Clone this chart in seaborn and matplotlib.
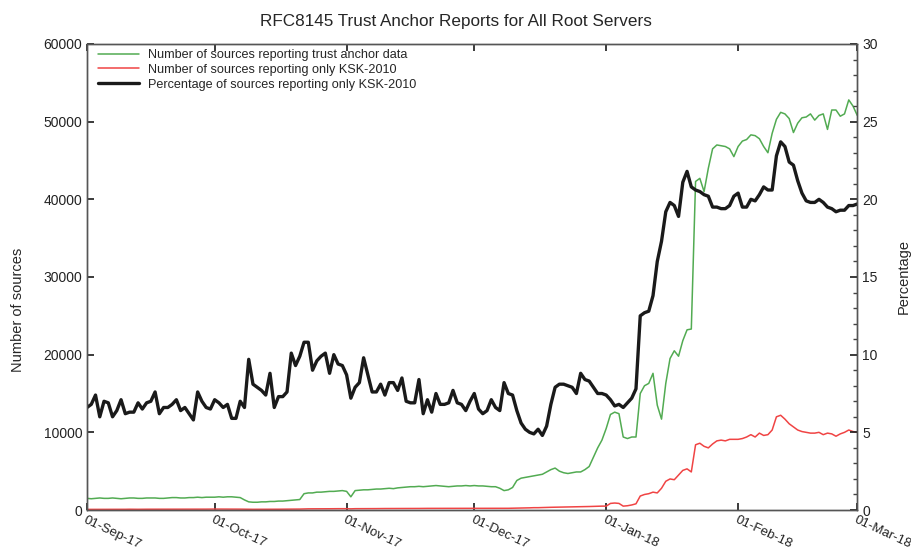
import numpy as np
import pandas as pd
import matplotlib
matplotlib.use("Agg")
import matplotlib.pyplot as plt
import matplotlib.dates as mdates
from matplotlib.ticker import MultipleLocator
import seaborn as sns

# ---- data (daily, 01-Sep-17 .. 01-Mar-18) ----
pct_sep = [6.6, 6.8, 7.4, 6.0, 7.0, 6.9, 6.0, 6.4, 7.1, 6.2, 6.3, 6.3, 6.9, 6.5, 6.9,
           7.0, 7.6, 6.2, 6.6, 6.6, 6.8, 7.1, 6.4, 6.6, 6.2, 5.8, 7.6, 7.0, 6.6, 6.5]
pct_oct = [7.1, 6.9, 6.6, 6.8, 5.9, 5.9, 7.0, 6.6, 9.7, 8.1, 7.9, 7.7, 7.4, 8.8, 6.6, 7.3,
           7.3, 7.6, 10.1, 9.3, 9.9, 10.8, 10.8, 9.0, 9.6, 9.9, 10.1, 8.8, 10.0, 9.4, 9.3]
pct_nov = [8.7, 7.2, 7.9, 8.2, 9.8, 8.7, 7.6, 7.6, 8.1, 7.4, 8.2, 8.2, 7.7, 8.5, 7.0,
           6.9, 6.9, 8.4, 6.2, 7.1, 6.3, 7.5, 6.8, 6.8, 6.9, 7.7, 6.9, 6.8, 6.4, 7.0]
pct_dec = [7.5, 6.5, 6.2, 6.4, 7.1, 6.6, 6.4, 8.2, 7.5, 7.4, 6.4, 5.6, 5.2, 5.0, 4.9, 5.2,
           4.8, 5.4, 6.8, 7.9, 8.1, 8.1, 8.0, 7.9, 7.5, 8.8, 8.4, 8.3, 7.9, 7.5, 7.5]
pct_jan = [7.4, 7.1, 6.7, 6.8, 6.6, 6.9, 7.2, 7.8, 12.5, 12.7, 12.8, 13.8, 16.0, 17.3, 19.2, 19.8,
           19.6, 18.9, 21.1, 21.8, 20.8, 20.6, 20.5, 20.3, 20.2, 19.5, 19.5, 19.4, 19.4, 19.6, 20.2]
pct_feb = [20.4, 19.5, 19.5, 20.0, 19.9, 20.3, 20.8, 20.6, 20.6, 22.8, 23.7, 23.4, 22.4, 22.2,
           21.2, 20.4, 19.9, 19.8, 19.8, 20.0, 19.8, 19.5, 19.4, 19.2, 19.3, 19.3, 19.6, 19.6]
pct_mar = [19.7]

green_sep = [1500, 1450, 1500, 1550, 1500, 1500, 1550, 1500, 1450, 1500, 1550, 1550, 1500, 1500, 1550,
             1550, 1550, 1500, 1500, 1550, 1600, 1600, 1550, 1550, 1600, 1600, 1650, 1600, 1650, 1650]
green_oct = [1650, 1700, 1650, 1700, 1700, 1650, 1600, 1300, 1050, 1000, 1000, 1050, 1050, 1100, 1100, 1150,
             1150, 1200, 1250, 1300, 1350, 2100, 2200, 2200, 2300, 2300, 2350, 2400, 2400, 2450, 2500]
green_nov = [2400, 1700, 2500, 2550, 2600, 2600, 2650, 2700, 2700, 2750, 2800, 2750, 2850, 2900, 2950,
             3000, 3000, 3050, 3000, 3050, 3100, 3150, 3100, 3050, 3000, 3050, 3100, 3100, 3150, 3100]
green_dec = [3150, 3100, 3100, 3050, 3000, 3000, 2800, 2500, 2600, 2900, 3800, 4100, 4200, 4300, 4400, 4500,
             4600, 4900, 5200, 5400, 5000, 4800, 4700, 4800, 4900, 4900, 5200, 5600, 6800, 8000, 9000]
green_jan = [10500, 12300, 12600, 12400, 9400, 9200, 9400, 9400, 15000, 16000, 16300, 17600, 13500, 11700,
             16300, 19500, 20500, 19800, 21800, 23200, 23300, 42300, 42700, 41000, 44000, 46500, 47000,
             46900, 46800, 46500, 45500]
green_feb = [46800, 47500, 47700, 48300, 48200, 47800, 46800, 46000, 48500, 50300, 51200, 51000, 50400, 48600,
             49800, 50500, 50600, 51000, 50200, 50800, 51000, 49000, 51500, 51500, 50700, 51000, 52800, 52000]
green_mar = [50800]

red_sep = [80, 80, 90, 80, 90, 90, 80, 90, 90, 90, 100, 90, 90, 100, 100,
           100, 100, 90, 100, 100, 100, 110, 100, 100, 110, 110, 110, 110, 110, 120]
red_oct = [120, 120, 110, 120, 120, 110, 110, 100, 90, 90, 90, 90, 100, 100, 100, 100,
           110, 110, 110, 120, 120, 140, 150, 150, 150, 160, 160, 160, 170, 170, 170]
red_nov = [170, 150, 170, 170, 180, 180, 180, 180, 190, 190, 190, 190, 200, 200, 200,
           200, 200, 200, 210, 210, 210, 210, 210, 210, 210, 220, 220, 220, 220, 220]
red_dec = [220, 220, 220, 220, 220, 220, 220, 220, 220, 230, 250, 260, 270, 280, 300, 300,
           320, 340, 350, 360, 360, 370, 380, 390, 400, 420, 440, 450, 470, 480, 500]
red_jan = [500, 850, 900, 850, 500, 550, 650, 800, 1800, 2000, 2100, 2300, 2200, 2800, 3700, 4000,
           3900, 4500, 5100, 5300, 4900, 8400, 8600, 8200, 8000, 8500, 8900, 9000, 8900, 9100, 9100]
red_feb = [9100, 9200, 9400, 9700, 9400, 9900, 9600, 9700, 10300, 12000, 12200, 11700, 11100, 10700,
           10300, 10100, 10000, 9900, 9900, 10000, 9700, 9900, 9800, 9500, 9800, 10000, 10300, 10100]
red_mar = [10000]

pct = pct_sep + pct_oct + pct_nov + pct_dec + pct_jan + pct_feb + pct_mar
green = green_sep + green_oct + green_nov + green_dec + green_jan + green_feb + green_mar
red = red_sep + red_oct + red_nov + red_dec + red_jan + red_feb + red_mar

dates = pd.date_range("2017-09-01", periods=len(pct), freq="D")
df = pd.DataFrame({"date": dates, "green": green, "red": red, "pct": pct})

tick_dates = pd.to_datetime(["2017-09-01", "2017-10-01", "2017-11-01", "2017-12-01",
                             "2018-01-01", "2018-02-01", "2018-03-01"])

labels = ["Number of sources reporting trust anchor data",
          "Number of sources reporting only KSK-2010",
          "Percentage of sources reporting only KSK-2010"]

# ---- style ----
sns.set_theme(style="white")
plt.rcParams["font.family"] = ["Liberation Sans", "DejaVu Sans"]

fig = plt.figure(figsize=(9.12, 5.54), dpi=100)
ax = fig.add_axes([0.0954, 0.0794, 0.8446, 0.8412])
ax2 = ax.twinx()

sns.lineplot(data=df, x="date", y="green", ax=ax, color="#52ab52", linewidth=1.1, label=labels[0], legend=False)
sns.lineplot(data=df, x="date", y="red", ax=ax, color="#f04444", linewidth=1.1, label=labels[1], legend=False)
sns.lineplot(data=df, x="date", y="pct", ax=ax2, color="#1a1a1a", linewidth=2.4, label=labels[2], legend=False)

ax.set_xlim(tick_dates[0], tick_dates[-1])
ax.set_ylim(0, 60000)
ax2.set_ylim(0, 30)
ax.yaxis.set_major_locator(MultipleLocator(10000))
ax2.yaxis.set_major_locator(MultipleLocator(5))
ax2.yaxis.set_minor_locator(MultipleLocator(1))

ax.set_xticks(tick_dates)
ax.xaxis.set_major_formatter(mdates.DateFormatter("%d-%b-%y"))
for lbl in ax.get_xticklabels():
    lbl.set_rotation(-25)
    lbl.set_ha("left")
    lbl.set_va("top")
    lbl.set_rotation_mode("anchor")
    lbl.set_fontsize(9.5)

ax.tick_params(axis="x", direction="in", length=5, top=True, bottom=True, pad=3, colors="#222222")
ax.tick_params(axis="y", direction="in", length=5, left=True, labelsize=10, colors="#222222")
ax2.tick_params(axis="y", which="major", direction="in", length=5, right=True, labelsize=10, colors="#222222")
ax2.tick_params(axis="y", which="minor", direction="in", length=3, right=True, colors="#444444")

for a in (ax, ax2):
    for s in a.spines.values():
        s.set_color("#555555")
        s.set_linewidth(1.0)

ax.set_xlabel("")
ax.set_ylabel("Number of sources", fontsize=10.5)
ax.yaxis.set_label_coords(-0.08, 0.43)
ax2.set_ylabel("Percentage", fontsize=10.5, labelpad=14)
ax.set_title("RFC8145 Trust Anchor Reports for All Root Servers", fontsize=12.3, pad=13, x=0.479)

h1, l1 = ax.get_legend_handles_labels()
h2, l2 = ax2.get_legend_handles_labels()
leg = ax2.legend(h1 + h2, l1 + l2, loc="upper left", frameon=False, fontsize=9.1,
                 handlelength=3.2, handletextpad=0.7, labelspacing=0.22,
                 bbox_to_anchor=(0.008, 1.0), borderaxespad=0.0)

fig.savefig("out.png", dpi=100)
print(len(pct), len(green), len(red))
